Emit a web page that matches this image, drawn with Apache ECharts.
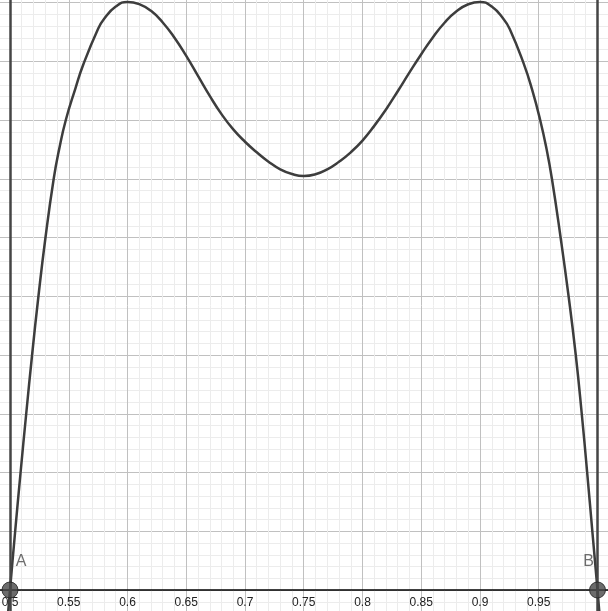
<!DOCTYPE html>
<html>
<head>
<meta charset="utf-8">
<script src="https://cdn.jsdelivr.net/npm/echarts@6/dist/echarts.min.js"></script>
<style>
  html, body { margin: 0; padding: 0; background: #fff; }
  #chart { width: 608px; height: 611px; }
</style>
</head>
<body>
<div id="chart"></div>
<script>
// curve (x, y)
const curveX = [0.4975, 0.5, 0.5044, 0.509, 0.5138, 0.5188, 0.5242, 0.5302, 0.5372, 0.5418, 0.5475,
  0.5557, 0.5623, 0.5749, 0.58, 0.59, 0.60, 0.61, 0.62, 0.63, 0.64, 0.65, 0.66, 0.67, 0.68, 0.69,
  0.70, 0.71, 0.72, 0.73, 0.74, 0.75, 0.76, 0.77, 0.78, 0.79, 0.80, 0.81, 0.82, 0.83, 0.84, 0.85,
  0.86, 0.87, 0.88, 0.89, 0.90, 0.91, 0.92, 0.9253, 0.9372, 0.9443, 0.9512, 0.9566, 0.9612, 0.9686,
  0.9754, 0.9815, 0.9866, 0.9912, 0.9956, 1.0, 1.0025];
const curveY = [-0.03, 0, 0.05, 0.10, 0.15, 0.20, 0.25, 0.30, 0.35, 0.375, 0.40,
  0.427, 0.447, 0.4775, 0.486, 0.4965, 0.5005, 0.4986, 0.4929, 0.483, 0.470, 0.4545, 0.4375, 0.4205, 0.405, 0.392,
  0.3815, 0.3725, 0.3645, 0.358, 0.354, 0.3523, 0.3538, 0.358, 0.3645, 0.3725, 0.3825, 0.395, 0.409, 0.4245, 0.4405, 0.456,
  0.4705, 0.483, 0.4925, 0.4985, 0.5005, 0.4965, 0.486, 0.4775, 0.448, 0.426, 0.40, 0.3755, 0.35, 0.30,
  0.25, 0.20, 0.15, 0.10, 0.05, 0, -0.03];

// vertical lines x = a, x = b
const boundsX = [0.5, 1.0];

// named points
const pointNames = ['A', 'B'];
const pointX = [0.5, 1.0];
const pointY = [0, 0];

// x tick labels that are printed
const xTickLabels = ['0.5', '0.55', '0.6', '0.65', '0.7', '0.75', '0.8', '0.85', '0.9', '0.95'];

const myChart = echarts.init(document.getElementById('chart'));

const curveData = curveX.map((x, i) => [x, curveY[i]]);
const pointData = pointNames.map((n, i) => ({
  name: n,
  value: [pointX[i], pointY[i]],
  label: { offset: i === 0 ? [11, -28] : [-9, -28] }
}));

const option = {
  animation: false,
  grid: {
    left: -48.75,
    right: -48.25,
    top: -56.25,
    bottom: -37.75,
    containLabel: false,
    outerBoundsMode: 'none'
  },
  xAxis: {
    type: 'value',
    min: 0.45,
    max: 1.05,
    interval: 0.05,
    axisLine: {
      onZero: true,
      lineStyle: { color: '#000', width: 1.5 }
    },
    axisTick: { show: false },
    axisLabel: {
      interval: 0,
      margin: -52.5,
      fontFamily: 'Liberation Sans, Arial, sans-serif',
      fontSize: 12,
      color: '#222',
      formatter: (v) => {
        const s = String(+v.toFixed(2));
        return xTickLabels.includes(s) ? s : '';
      }
    },
    splitLine: { lineStyle: { color: '#c0c0c0', width: 1 } },
    minorTick: { show: false, splitNumber: 5 },
    minorSplitLine: { show: true, lineStyle: { color: '#ececec', width: 1 } }
  },
  yAxis: {
    type: 'value',
    min: -0.05,
    max: 0.55,
    interval: 0.05,
    axisLine: { show: false },
    axisTick: { show: false },
    axisLabel: { show: false },
    splitLine: { lineStyle: { color: '#c0c0c0', width: 1 } },
    minorTick: { show: false, splitNumber: 5 },
    minorSplitLine: { show: true, lineStyle: { color: '#ececec', width: 1 } }
  },
  series: [
    {
      name: 'f',
      type: 'line',
      data: curveData,
      smooth: 0.5,
      showSymbol: false,
      lineStyle: { color: '#3d3d3d', width: 2.5, join: 'round' },
      markLine: {
        silent: true,
        symbol: 'none',
        label: { show: false },
        lineStyle: { color: '#454545', width: 2.5, type: 'solid' },
        data: boundsX.map((x) => ({ xAxis: x }))
      },
      z: 3
    },
    {
      name: 'points',
      type: 'scatter',
      data: pointData,
      symbol: 'circle',
      symbolSize: 16,
      itemStyle: { color: '#474747', borderColor: '#222', borderWidth: 1 },
      label: {
        show: true,
        position: 'inside',
        formatter: '{b}',
        fontFamily: 'Liberation Sans, Arial, sans-serif',
        fontSize: 16,
        color: '#4a4a4a'
      },
      z: 5
    }
  ]
};

myChart.setOption(option);
</script>
</body>
</html>
